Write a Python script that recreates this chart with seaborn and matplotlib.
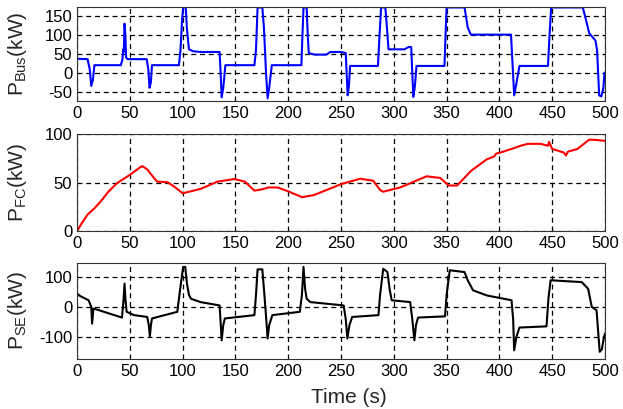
import matplotlib
matplotlib.use("Agg")
import matplotlib.pyplot as plt
import seaborn as sns

# bus power demand (kW) vs time (s)
t_bus=[0,10,12,13.5,15,16.5,41.5,43,43.8,44.3,45,45.8,46.5,48,66,67.5,68.7,70,71,
       96.5,98,99.5,100.5,103,104,106,110,117,135,136,137,138.5,140.5,
       168,169.5,171,175.5,177,179,180.5,182,184.5,
       212.5,213.5,214.5,217.5,218.5,219.5,225,236,240,250,254.5,255.3,256.3,257.5,258.6,
       285,286.5,288,292,293.5,295,310,314,316.5,317.5,318.5,320,321.5,
       348,349,350,367,370,373,411,412.5,414,416,419,
       446,447.5,449,479,482,485,488,491,492.5,493.5,494.5,496.5,498.5,499.5,500]
p_bus=[37,36,10,-35,-20,20,20,35,62,55,130,100,40,36,36,10,-40,-25,20,
       20,60,140,173,173,120,62,57,55,55,0,-65,-40,20,
       20,60,173,173,120,0,-68,-40,20,
       20,100,173,173,100,52,48,48,55,55,52,0,-60,-35,18,
       18,100,173,173,120,62,62,68,68,0,-64,-35,18,
       18,100,173,173,120,101,101,20,-60,-30,18,
       18,100,173,173,140,105,95,85,60,0,-60,-63,-40,0,0]

# fuel cell power (kW)
t_fc=[0,5,10,16,22,30,38,50,60,62,66.5,72,76,85.5,92,100,117,133,149,159,168,175,181,190,200,213,
      224,250,268,280.5,287,290,306,331,344,352,360,373,388,395,397,401,415,420,427,439,446,447,450,
      461,463,465,474,485,492,500]
p_fc=[0,9,17,23,30,41,49.5,58,66,67,63.6,56,51,50.5,46,39,43.5,51,53.7,51,41.7,43,45,45,41,35,
      37,48.4,54,52,42.4,40.6,45,56.5,54.8,47,47,62,74,77,80,81,86,88,90,90,88,92,84.8,
      81,78,82,84.8,94.3,94,93]

# storage element power (kW)
t_se=[0,3,11,13.5,14.3,15.6,42.6,44,45,46,47,54,66.5,68,69,70,71,
      95,97,100.5,102.5,104,106,108,117,135,136,137,138.5,140,
      168,169.5,171,175.5,177,179,180.5,182,185,211,213,214.5,216,217.5,221,
      252.5,254.5,256,258,260.6,285.5,287,290,294,296,298,315.5,317.5,319.5,321,323,
      348.5,350,353,367,370,375,388,411.5,413,414,416,419,
      444.6,446.5,448.5,478,484,487.5,492,493.5,495,497,499,500]
p_se=[44,36,22,0,-55,-5,-35,20,77,20,-16,-27,-33,-60,-97,-60,-38,
      -16,40,132,132,80,40,27,16,5,-50,-110,-60,-38,
      -27,40,124,124,60,-30,-104,-60,-27,-16,40,132,60,27,16,
      5,-40,-104,-60,-33,-27,40,126,115,60,22,16,-40,-110,-60,-35,
      -31,40,121,115,88,55,38,22,-40,-143,-100,-68,
      -64,30,88,82,60,0,-11,-80,-148,-140,-100,-88]

assert len(t_bus)==len(p_bus) and len(t_fc)==len(p_fc) and len(t_se)==len(p_se)

sns.set_style("white")
plt.rcParams["font.family"]=["Liberation Sans","DejaVu Sans"]
plt.rcParams["mathtext.fontset"]="custom"
plt.rcParams["mathtext.rm"]="Liberation Sans"
plt.rcParams["mathtext.it"]="Liberation Sans:italic"
plt.rcParams["axes.unicode_minus"]=False

fig=plt.figure(figsize=(6.23,4.09),dpi=100)
left,width=0.1236,0.8475
panels=[
    (t_bus,p_bus,"#0000ff",(-75,175),[-50,0,50,100,150],r"P$_{\rm Bus}$(kW)",0.753,0.2306),
    (t_fc,p_fc,"#ff0000",(0,100),[0,50,100],r"P$_{\rm FC}$(kW)",0.435,0.237),
    (t_se,p_se,"#000000",(-172,145),[-100,0,100],r"P$_{\rm SE}$(kW)",0.122,0.235),
]
for i,(tt,pp,col,ylim,yt,lab,bot,h) in enumerate(panels):
    ax=fig.add_axes([left,bot,width,h])
    sns.lineplot(x=tt,y=pp,ax=ax,color=col,linewidth=1.5,estimator=None,sort=False)
    ax.set_xlim(0,500)
    ax.set_ylim(*ylim)
    ax.set_xticks(range(0,501,50))
    ax.set_yticks(yt)
    ax.grid(True,color="k",linestyle=(0,(4,3)),linewidth=0.9)
    ax.tick_params(direction="in",length=3,labelsize=12,colors="k")
    for s in ax.spines.values():
        s.set_color("#333333")
        s.set_linewidth(0.8)
    ax.set_ylabel(lab,fontsize=15)
    ax.yaxis.set_label_coords(-0.09,0.5)
    if i==2:
        ax.set_xlabel("Time (s)",fontsize=15,labelpad=5)
        ax.xaxis.set_label_coords(0.515,-0.3)

fig.savefig("out.png",dpi=100)
